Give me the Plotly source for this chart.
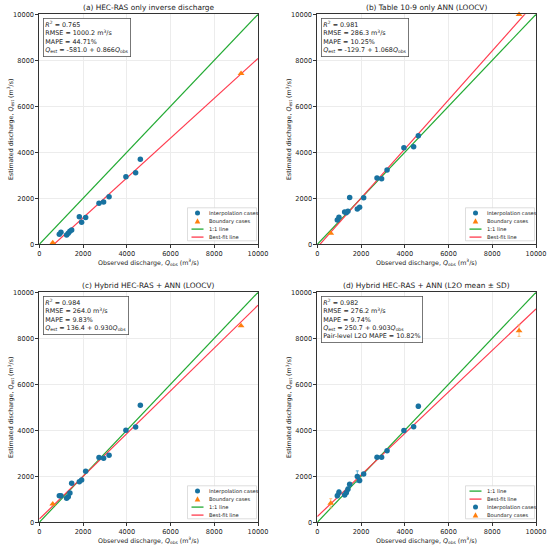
import plotly.graph_objects as go

# observed discharge (m3/s), shared by all panels
obs_interp = [915, 990, 1250, 1325, 1400, 1480, 1830, 1935, 2120, 2730, 2940, 3190, 3960, 4405, 4620]
obs_bound = [615, 9225]

# estimated discharge per panel
est_a = [435, 520, 405, 478, 565, 623, 1200, 957, 1160, 1780, 1840, 2070, 2940, 3115, 3700]
est_a_b = [72, 7430]
est_b = [1058, 1174, 1406, 1377, 1440, 2030, 1536, 1609, 2029, 2884, 2855, 3232, 4203, 4246, 4725]
est_b_b = [478, 9990]
est_c = [1159, 1159, 1043, 1110, 1275, 1696, 1768, 1840, 2217, 2812, 2783, 2913, 4000, 4145, 5087]
est_c_b = [797, 8550]
est_d = [1159, 1304, 1188, 1290, 1435, 1652, 1986, 1812, 2101, 2826, 2826, 3116, 3986, 4159, 5043]
est_d_b = [826, 8333]
sd_d = [90, 110, 60, 80, 110, 70, 250, 90, 60, 50, 50, 40, 90, 60, 90]
sd_d_b = [200, 250]

titles = ["(a) HEC-RAS only inverse discharge", "(b) Table 10-9 only ANN (LOOCV)",
          "(c) Hybrid HEC-RAS + ANN (LOOCV)", "(d) Hybrid HEC-RAS + ANN (L2O mean ± SD)"]
r2 = ["0.765", "0.981", "0.984", "0.982"]
rmse = ["1000.2", "286.3", "264.0", "276.2"]
mape = ["44.71", "10.25", "9.83", "9.74"]
intercept = [-581.0, -129.7, 136.4, 250.7]
slope = [0.866, 1.068, 0.930, 0.903]
ticks = [0, 2000, 4000, 6000, 8000, 10000]

BLUE = "#1872a0"
ORANGE = "#ff7f0e"
GREEN = "#22aa33"
RED = "#ff3b4e"
FONT = "DejaVu Sans"
W, H = 550, 548

def px(x, y):
    return x / W, 1 - y / H

# panel boxes in pixels: left, right, top, bottom
boxes = [(39.3, 258, 14.3, 244.3), (317.3, 536, 14.3, 244.3),
         (39.3, 258, 292.3, 522.3), (317.3, 536, 292.3, 522.3)]

panels = [(est_a, est_a_b), (est_b, est_b_b), (est_c, est_c_b), (est_d, est_d_b)]

fig = go.Figure()
line_x = [0, 10000]
for i, (ei, eb) in enumerate(panels):
    n = "" if i == 0 else str(i + 1)
    xa, ya = "x" + n, "y" + n
    fit_y = [intercept[i] + slope[i] * v for v in line_x]
    fig.add_trace(go.Scatter(x=line_x, y=line_x, mode="lines", line=dict(color=GREEN, width=1.2),
                             xaxis=xa, yaxis=ya, showlegend=False))
    fig.add_trace(go.Scatter(x=line_x, y=fit_y, mode="lines", line=dict(color=RED, width=1.2),
                             xaxis=xa, yaxis=ya, showlegend=False))
    fig.add_trace(go.Scatter(x=obs_interp, y=ei, mode="markers",
                             marker=dict(color=BLUE, size=5.5, symbol="circle"),
                             error_y=dict(type="data", array=sd_d, color="#3a9ac8", thickness=0.8, width=1.5) if i == 3 else None,
                             xaxis=xa, yaxis=ya, showlegend=False, cliponaxis=False))
    fig.add_trace(go.Scatter(x=obs_bound, y=eb, mode="markers",
                             marker=dict(color=ORANGE, size=6, symbol="triangle-up"),
                             error_y=dict(type="data", array=sd_d_b, color="#ffb060", thickness=0.8, width=1.5) if i == 3 else None,
                             xaxis=xa, yaxis=ya, showlegend=False, cliponaxis=False))

layout = dict(width=W, height=H, margin=dict(l=0, r=0, t=0, b=0),
              plot_bgcolor="white", paper_bgcolor="white",
              font=dict(family=FONT, size=6.6, color="#222"), showlegend=False)
ann = []
shapes = []
for i in range(4):
    n = "" if i == 0 else str(i + 1)
    L, R, T, B = boxes[i]
    axis_common = dict(range=[0, 10000], tickvals=ticks, tickformat="d", automargin=False,
                       showgrid=True, gridcolor="#ececec", gridwidth=0.6,
                       showline=True, linecolor="#333", linewidth=0.8, mirror=True,
                       ticks="outside", ticklen=3, tickcolor="#333", zeroline=False,
                       tickfont=dict(size=6.6))
    layout["xaxis" + n] = dict(axis_common, domain=[L / W, R / W], anchor="y" + n)
    layout["yaxis" + n] = dict(axis_common, domain=[1 - B / H, 1 - T / H], anchor="x" + n)

    cx = (L + R) / 2
    # title and axis titles
    ann.append(dict(text=titles[i], x=cx / W, y=1 - (T - 7) / H, xref="paper", yref="paper",
                    xanchor="center", yanchor="middle", showarrow=False, font=dict(size=7.4)))
    ann.append(dict(text="Observed discharge, <i>Q</i><sub>obs</sub> (m<sup>3</sup>/s)",
                    x=cx / W, y=1 - (B + 18.5) / H, xref="paper", yref="paper",
                    xanchor="center", yanchor="middle", showarrow=False, font=dict(size=6.3)))
    ann.append(dict(text="Estimated discharge, <i>Q</i><sub>est</sub> (m<sup>3</sup>/s)",
                    x=(L - 28.5) / W, y=1 - (T + B) / 2 / H, xref="paper", yref="paper", textangle=-90,
                    xanchor="center", yanchor="middle", showarrow=False, font=dict(size=6.3)))

    # statistics box
    sgn = "+" if slope[i] >= 0 else "-"
    lines_txt = [f"<i>R</i><sup>2</sup> = {r2[i]}",
                 f"RMSE = {rmse[i]} m<sup>3</sup>/s",
                 f"MAPE = {mape[i]}%",
                 f"<i>Q</i><sub>est</sub> = {intercept[i]:.1f} {sgn} {abs(slope[i]):.3f}<i>Q</i><sub>obs</sub>"]
    if i == 3:
        lines_txt.append("Pair-level L2O MAPE = 10.82%")
    ann.append(dict(text="<br>".join(lines_txt), x=(L + 3.5) / W, y=1 - (T + 4) / H,
                    xref="paper", yref="paper", xanchor="left", yanchor="top", align="left",
                    showarrow=False, font=dict(size=6.4), bgcolor="white",
                    bordercolor="#555", borderwidth=0.8, borderpad=1.5))

    # legend drawn by hand to get matplotlib-like compact spacing
    lw, lh = 69, 33
    lx0, ly0 = R - 1.5 - lw, B - 3.5 - lh
    x0, y0 = px(lx0, ly0)
    x1, y1 = px(lx0 + lw, ly0 + lh)
    shapes.append(dict(type="rect", xref="paper", yref="paper", x0=x0, x1=x1, y0=y0, y1=y1,
                       line=dict(color="#d0d0d0", width=0.7), fillcolor="rgba(255,255,255,0.9)"))
    items = ["Interpolation cases", "Boundary cases", "1:1 line", "Best-fit line"]
    kinds = ["circle", "triangle", GREEN, RED]
    if i == 3:
        items = items[2:] + items[:2]
        kinds = kinds[2:] + kinds[:2]
    for k, (lab, kind) in enumerate(zip(items, kinds)):
        iy = ly0 + 5.3 + 8 * k
        sx = lx0 + 10
        if kind == "circle":
            a0, b0 = px(sx - 2.5, iy - 2.5)
            a1, b1 = px(sx + 2.5, iy + 2.5)
            shapes.append(dict(type="circle", xref="paper", yref="paper", x0=a0, x1=a1, y0=b0, y1=b1,
                               fillcolor=BLUE, line=dict(width=0)))
        elif kind == "triangle":
            p1, p2, p3 = px(sx, iy - 2.8), px(sx - 2.8, iy + 2.3), px(sx + 2.8, iy + 2.3)
            shapes.append(dict(type="path", xref="paper", yref="paper",
                               path=f"M {p1[0]},{p1[1]} L {p2[0]},{p2[1]} L {p3[0]},{p3[1]} Z",
                               fillcolor=ORANGE, line=dict(width=0)))
        else:
            a0, b0 = px(sx - 6, iy)
            a1, b1 = px(sx + 6, iy)
            shapes.append(dict(type="line", xref="paper", yref="paper", x0=a0, x1=a1, y0=b0, y1=b1,
                               line=dict(color=kind, width=1.3)))
        tx, ty = px(lx0 + 19, iy)
        ann.append(dict(text=lab, x=tx, y=ty, xref="paper", yref="paper", xanchor="left",
                        yanchor="middle", showarrow=False, font=dict(size=5.2)))

layout["annotations"] = ann
layout["shapes"] = shapes
fig.update_layout(**layout)
fig.write_html("out.html", config={"displayModeBar": False},
               post_script="document.body.style.margin='0';document.body.style.overflow='hidden';")
